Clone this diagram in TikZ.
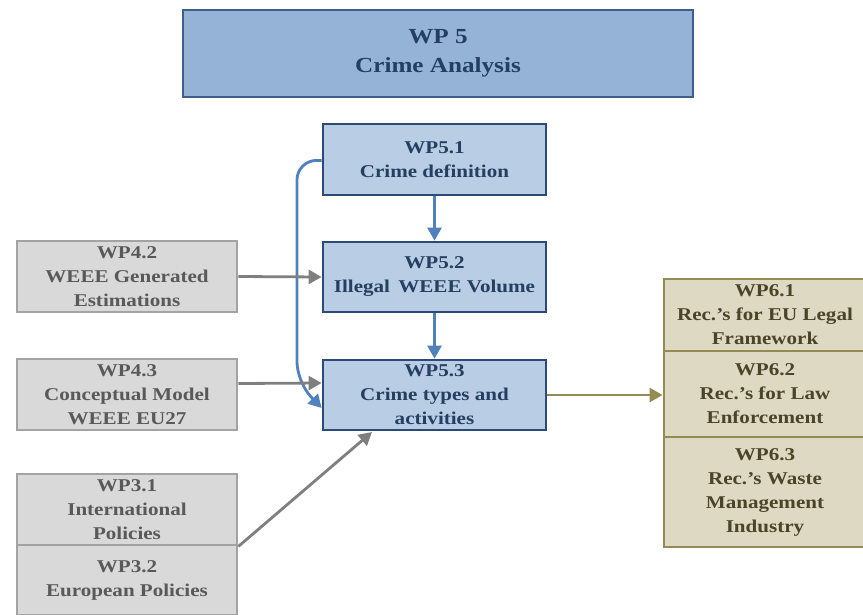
\documentclass[tikz,border=0pt]{standalone}
\usepackage{fontspec}
\setmainfont{Liberation Serif}[FakeStretch=1.17]
\usetikzlibrary{arrows.meta}
\definecolor{topfill}{HTML}{95B3D7}
\definecolor{topdraw}{HTML}{3D5F8C}
\definecolor{bfill}{HTML}{B9CDE5}
\definecolor{bdraw}{HTML}{2C4A78}
\definecolor{btext}{HTML}{243F60}
\definecolor{barrow}{HTML}{4F81BD}
\definecolor{gfill}{HTML}{D9D9D9}
\definecolor{gdraw}{HTML}{A3A3A3}
\definecolor{gtext}{HTML}{595959}
\definecolor{garrow}{HTML}{7F7F7F}
\definecolor{ofill}{HTML}{DDD9C3}
\definecolor{odraw}{HTML}{948A54}
\definecolor{otext}{HTML}{4A4529}
\tikzset{
  box/.style={rectangle, line width=2.8pt, align=center, inner sep=0pt,
    font=\fontsize{18}{24}\selectfont\bfseries},
  topbox/.style={box, fill=topfill, draw=topdraw, text=btext,
    font=\fontsize{21.5}{29}\selectfont\bfseries},
  bluebox/.style={box, fill=bfill, draw=bdraw, text=btext, minimum width=223pt},
  graybox/.style={box, fill=gfill, draw=gdraw, text=gtext, minimum width=220pt},
  olivebox/.style={box, fill=ofill, draw=odraw, text=otext, minimum width=202pt},
  tip/.style={-{Triangle[length=13pt,width=14pt]}, line width=2.8pt},
  barr/.style={tip, draw=barrow},
  garr/.style={tip, draw=garrow},
  oarr/.style={tip, draw=odraw},
}
\begin{document}
\begin{tikzpicture}[x=1pt,y=-1pt]
\useasboundingbox (0,0) rectangle (863,614);
\node[topbox, minimum width=510pt, minimum height=87pt] (wp5) at (438,53.5) {WP 5\\Crime Analysis};
\node[bluebox, minimum height=71pt] (wp51) at (434.5,159.5) {WP5.1\\Crime definition};
\node[bluebox, minimum height=70pt] (wp52) at (434.5,277) {WP5.2\\Illegal\, WEEE Volume};
\node[bluebox, minimum height=70pt] (wp53) at (434.5,395) {WP5.3\\Crime types and\\activities};
\node[graybox, minimum height=71pt] (wp42) at (127,276.5) {WP4.2\\WEEE Generated\\Estimations};
\node[graybox, minimum height=71pt] (wp43) at (127,394.5) {WP4.3\\Conceptual Model\\WEEE EU27};
\node[graybox, minimum height=71pt] (wp31) at (127,509.5) {WP3.1\\International\\Policies};
\node[graybox, minimum height=70pt] (wp32) at (127,580) {WP3.2\\European Policies};
\node[olivebox, minimum height=72pt] (wp61) at (765,315) {WP6.1\\Rec.’s for EU Legal\\Framework};
\node[olivebox, minimum height=86pt] (wp62) at (765,394) {WP6.2\\Rec.’s for Law\\Enforcement};
\node[olivebox, minimum height=110pt] (wp63) at (765,492) {WP6.3\\Rec.’s Waste\\Management\\Industry};
\coordinate (diagtip) at (372,432);
\draw[barr] (wp51.south) -- (wp52.north);
\draw[barr] (wp52.south) -- (wp53.north);
\draw[barr, rounded corners=20pt] ([yshift=-1pt]wp51.west) -- (297,160) -- (297,382) -- ([yshift=-13pt]wp53.west);
\draw[garr] (wp42.east) -- (wp52.west);
\draw[garr] ([yshift=11pt]wp43.east) -- ([yshift=12pt]wp53.west);
\draw[garr] (wp31.south east) -- (diagtip);
\draw[oarr] (wp53.east) -- (wp53.east -| wp62.west);
\end{tikzpicture}
\end{document}
